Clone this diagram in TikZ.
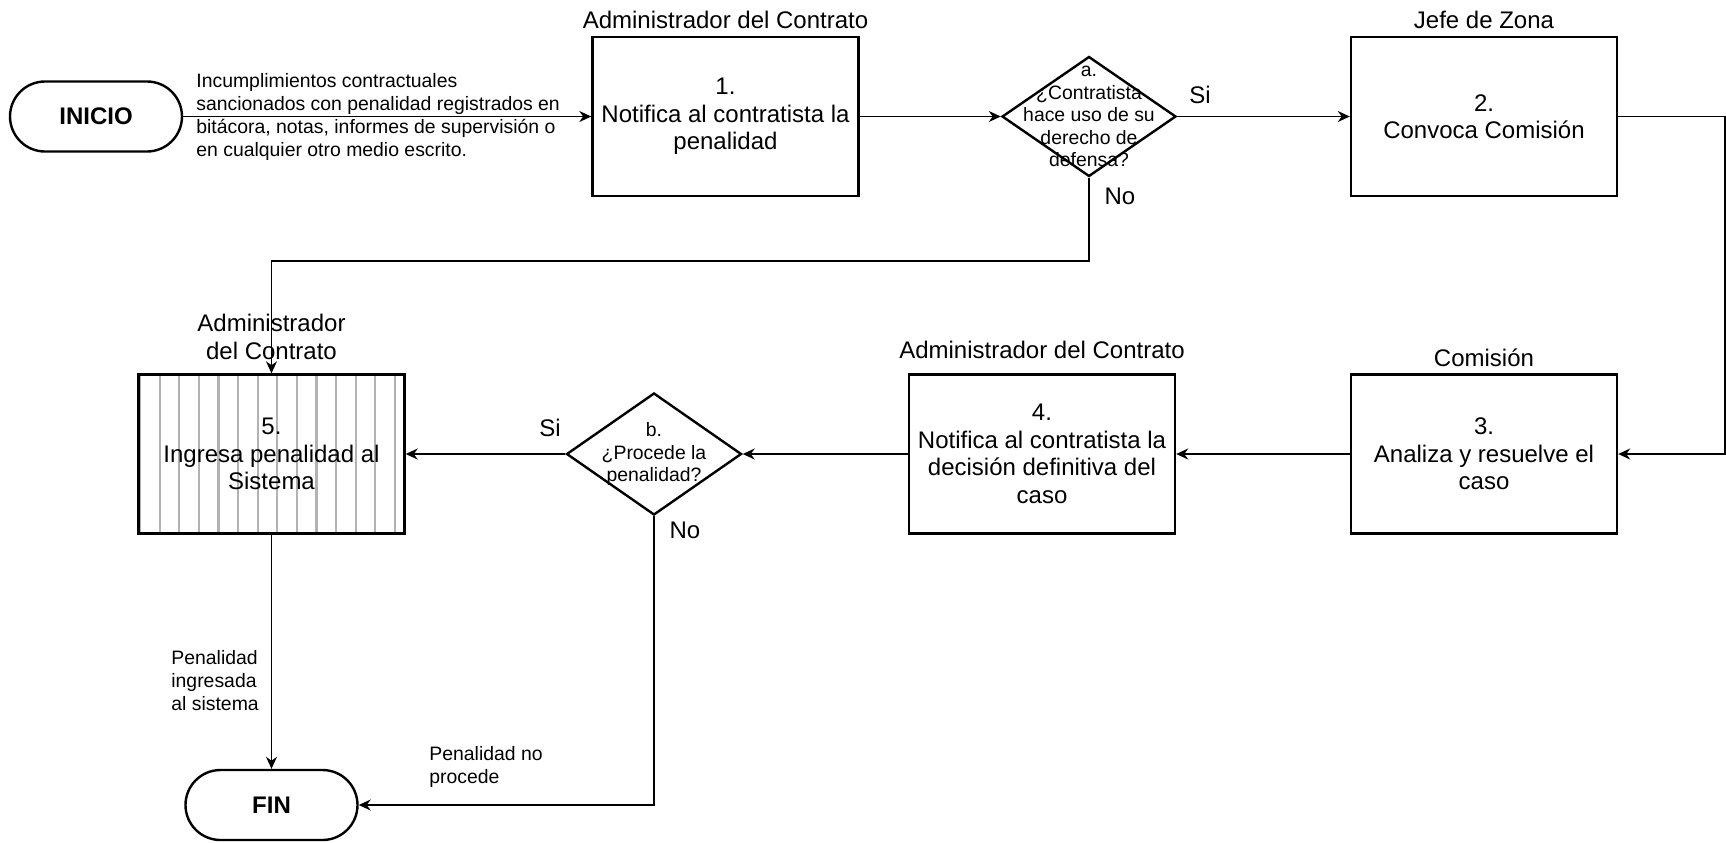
\documentclass[tikz,border=0pt]{standalone}
\usepackage{fontspec}
\setmainfont{Liberation Sans}
\usetikzlibrary{shapes.geometric,arrows.meta,calc}
\begin{document}
\begin{tikzpicture}[x=0.5pt,y=-0.5pt,
  box/.style={draw,line width=1.2pt,minimum width=133pt,minimum height=79.5pt,align=center,font=\fontsize{12}{13.75}\selectfont,inner sep=0pt},
  term/.style={draw,line width=1.2pt,rounded corners=17.5pt,minimum width=86pt,minimum height=35pt,font=\bfseries\fontsize{12}{14}\selectfont,inner sep=0pt},
  dia/.style={draw,diamond,line width=1.2pt,minimum width=87pt,minimum height=60pt,inner sep=0pt},
  dtext/.style={align=center,font=\fontsize{9.7}{11.25}\selectfont,inner sep=0pt},
  note/.style={align=left,font=\fontsize{9.7}{11.5}\selectfont,inner sep=0pt},
  ttl/.style={align=center,font=\fontsize{12}{14.25}\selectfont,inner sep=0pt},
  lbl/.style={font=\fontsize{12}{14}\selectfont,inner sep=0pt},
  conn/.style={line width=0.85pt,-{Stealth[length=6pt,width=5.5pt]}},
  stripes/.style={path picture={\foreach \i in {0,...,13}{\draw[gray!60,line width=1.1pt] ([xshift={0.75pt+9.8pt*\i}]path picture bounding box.north west) -- ([xshift={0.75pt+9.8pt*\i}]path picture bounding box.south west);}}},
]
\useasboundingbox (0,0) rectangle (1726,842);

% nodes
\node[term] (ini) at (96,116.5) {INICIO};
\node[box] (b1) at (725.5,116.5) {1.\\Notifica al contratista la\\penalidad};
\node[dia] (da) at (1089,116.5) {};
\node[dtext] (dat) at (da.center) {a.\\¿Contratista\\hace uso de su\\derecho de\\defensa?};
\node[box] (b2) at (1484,116.5) {2.\\Convoca Comisión};
\node[box] (b3) at (1484,454) {3.\\Analiza y resuelve el\\caso};
\node[box] (b4) at (1042,454) {4.\\Notifica al contratista la\\decisión definitiva del\\caso};
\node[dia,minimum width=87.5pt,minimum height=61pt] (db) at (654,454) {};
\node[dtext] (dbt) at (db.center) {b.\\¿Procede la\\penalidad?};
\node[box,stripes] (b5) at (271.5,454) {5.\\Ingresa penalidad al\\Sistema};
\node[term] (fin) at (271.5,805) {FIN};

% titles
\node[ttl] (t1) at (725.5,20) {Administrador del Contrato};
\node[ttl] (t2) at (1484,20) {Jefe de Zona};
\node[ttl] (t3) at (1484,358) {Comisión};
\node[ttl] (t4) at (1042,350) {Administrador del Contrato};
\node[ttl] (t5) at (271.5,337) {Administrador\\del Contrato};

% notes
\node[note,anchor=west] (n1) at (196,117) {Incumplimientos contractuales\\sancionados con penalidad registrados en\\bitácora, notas, informes de supervisión o\\en cualquier otro medio escrito.};
\node[note,anchor=west] (n2) at (171,681) {Penalidad\\ingresada\\al sistema};
\node[note,anchor=west] (n3) at (429,767) {Penalidad no\\procede};

% labels
\node[lbl] (si1) at (1200,95) {Si};
\node[lbl] (no1) at (1120,196) {No};
\node[lbl] (si2) at (550,428) {Si};
\node[lbl] (no2) at (685,530) {No};

% connectors
\coordinate (r1) at (1725,116.5);
\coordinate (r2) at (1725,454);
\coordinate (k1) at (1089,261);
\coordinate (k2) at (271.5,261);
\coordinate (k3) at (654,805);
\draw[conn] (ini.east) -- (b1.west);
\draw[conn] (b1.east) -- (da.west);
\draw[conn] (da.east) -- (b2.west);
\draw[conn] (b2.east) -- (r1) -- (r2) -- (b3.east);
\draw[conn] (b3.west) -- (b4.east);
\draw[conn] (b4.west) -- (db.east);
\draw[conn] (db.west) -- (b5.east);
\draw[conn] (da.south) -- (k1) -- (k2) -- (b5.north);
\draw[conn] (b5.south) -- (fin.north);
\draw[conn] (db.south) -- (k3) -- (fin.east);
\end{tikzpicture}
\end{document}
